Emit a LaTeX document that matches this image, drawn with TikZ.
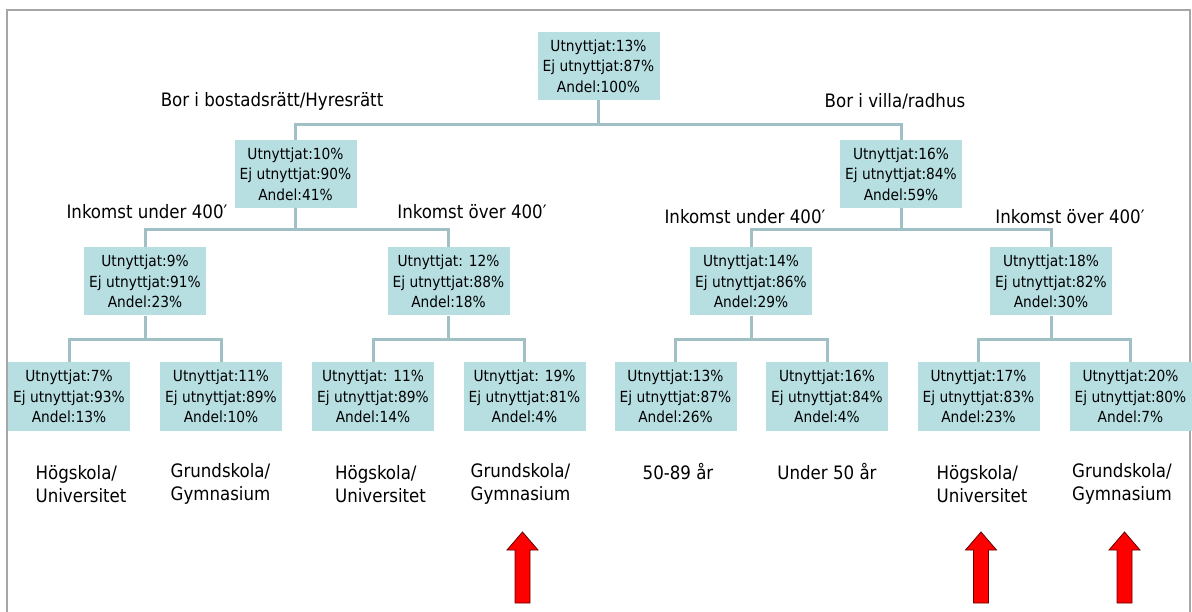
\documentclass[tikz,border=0pt]{standalone}
\usepackage{fontspec}
\setmainfont{DejaVu Sans Condensed}
\definecolor{boxfill}{RGB}{183,223,226}
\definecolor{linecol}{RGB}{160,192,197}
\tikzset{
  box/.style={fill=boxfill, minimum width=122pt, minimum height=68pt, inner sep=0pt, align=center, font=\fontsize{15.3}{20.5}\selectfont},
  lbl/.style={font=\fontsize{18.5}{23}\selectfont},
  leaf/.style={font=\fontsize{18.5}{23}\selectfont, align=left},
  conn/.style={draw=linecol, line width=3pt},
  uparrow/.style={fill=red, draw=black!60!red, line width=0.8pt}
}
\begin{document}
\begin{tikzpicture}[x=1pt,y=-1pt]
\useasboundingbox (0,0) rectangle (1192,612);
\draw[gray!70, line width=1.5pt] (7,612) -- (7,10) -- (1190,10) -- (1190,612);
% root and first split
\node[box] at (598.5,66) (n0) {Utnyttjat:13\%\\Ej utnyttjat:87\%\\Andel:100\%};
\node[box] at (295.5,174) (n1) {Utnyttjat:10\%\\Ej utnyttjat:90\%\\Andel:41\%};
\node[box] at (901,174) (n2) {Utnyttjat:16\%\\Ej utnyttjat:84\%\\Andel:59\%};
\node[lbl] at (272,101) (l1) {Bor i bostadsrätt/Hyresrätt};
\node[lbl] at (895,101) (l2) {Bor i villa/radhus};
% income
\node[box] at (145,281.5) (n11) {Utnyttjat:9\%\\Ej utnyttjat:91\%\\Andel:23\%};
\node[box] at (448.5,281.5) (n12) {Utnyttjat: 12\%\\Ej utnyttjat:88\%\\Andel:18\%};
\node[box] at (751,281.5) (n21) {Utnyttjat:14\%\\Ej utnyttjat:86\%\\Andel:29\%};
\node[box] at (1051,281.5) (n22) {Utnyttjat:18\%\\Ej utnyttjat:82\%\\Andel:30\%};
\node[lbl] at (147,212) (l11) {Inkomst under 400′};
\node[lbl] at (472,212) (l12) {Inkomst över 400′};
\node[lbl] at (745,217) (l21) {Inkomst under 400′};
\node[lbl] at (1070,217) (l22) {Inkomst över 400′};
% leaves
\node[box] at (69,396.5) (n111) {Utnyttjat:7\%\\Ej utnyttjat:93\%\\Andel:13\%};
\node[box] at (221,396.5) (n112) {Utnyttjat:11\%\\Ej utnyttjat:89\%\\Andel:10\%};
\node[box] at (373,396.5) (n121) {Utnyttjat: 11\%\\Ej utnyttjat:89\%\\Andel:14\%};
\node[box] at (524.5,396.5) (n122) {Utnyttjat: 19\%\\Ej utnyttjat:81\%\\Andel:4\%};
\node[box] at (675.5,396.5) (n211) {Utnyttjat:13\%\\Ej utnyttjat:87\%\\Andel:26\%};
\node[box] at (827,396.5) (n212) {Utnyttjat:16\%\\Ej utnyttjat:84\%\\Andel:4\%};
\node[box] at (978.5,396.5) (n221) {Utnyttjat:17\%\\Ej utnyttjat:83\%\\Andel:23\%};
\node[box] at (1130.5,396.5) (n222) {Utnyttjat:20\%\\Ej utnyttjat:80\%\\Andel:7\%};
\node[leaf] at (81,484) (l111) {Högskola/\\Universitet};
\node[leaf] at (220.5,484) (l112) {Grundskola/\\Gymnasium};
\node[leaf] at (380.5,484) (l121) {Högskola/\\Universitet};
\node[leaf] at (520.5,484) (l122) {Grundskola/\\Gymnasium};
\node[lbl] at (678,472) (l211) {50-89 år};
\node[lbl] at (827,472) (l212) {Under 50 år};
\node[leaf] at (982,484) (l221) {Högskola/\\Universitet};
\node[leaf] at (1122,484) (l222) {Grundskola/\\Gymnasium};
% connectors
\draw[conn] (n0.south) -- ++(0,24) -| (n1.north);
\draw[conn] (n0.south) -- ++(0,24) -| (n2.north);
\foreach \p in {n1,n2}{
  \draw[conn] (\p.south) -- ++(0,21) -| (\p1.north);
  \draw[conn] (\p.south) -- ++(0,21) -| (\p2.north);
}
\foreach \p in {n11,n12,n21,n22}{
  \draw[conn] (\p.south) -- ++(0,24) -| (\p1.north);
  \draw[conn] (\p.south) -- ++(0,24) -| (\p2.north);
}
% red arrows
\foreach \ax in {522.5,981,1124.5}
  \filldraw[uparrow] (\ax,532) -- ({\ax+15.5},550) -- ({\ax+7.5},550) -- ({\ax+7.5},603)
    -- ({\ax-7.5},603) -- ({\ax-7.5},550) -- ({\ax-15.5},550) -- cycle;
\end{tikzpicture}
\end{document}
